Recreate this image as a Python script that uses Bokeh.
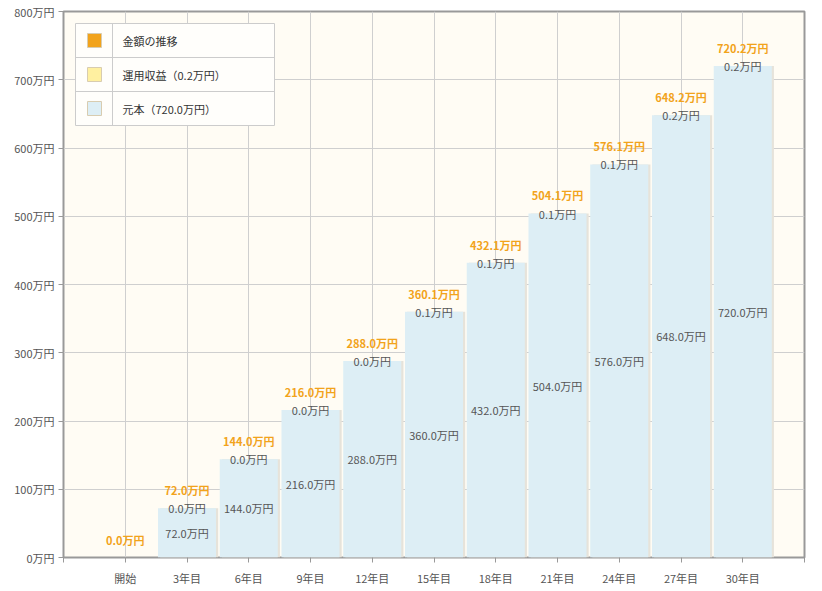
from bokeh.plotting import figure
from bokeh.models import ColumnDataSource, FixedTicker
from bokeh.transform import dodge
from bokeh.core.properties import value
from bokeh.embed import file_html
from bokeh.resources import INLINE

# --- data -------------------------------------------------------------
categories = ["開始", "3年目", "6年目", "9年目", "12年目", "15年目",
              "18年目", "21年目", "24年目", "27年目", "30年目"]
principal = [0.0, 72.0, 144.0, 216.0, 288.0, 360.0, 432.0, 504.0, 576.0, 648.0, 720.0]
income = [0.0, 0.0, 0.0, 0.0, 0.0, 0.1, 0.1, 0.1, 0.1, 0.2, 0.2]
y_ticks = [0, 100, 200, 300, 400, 500, 600, 700, 800]
legend_labels = ["金額の推移", "運用収益（0.2万円）", "元本（720.0万円）"]

FONT = "Noto Sans CJK JP"
ORANGE = "#F2A31B"
BAR = "#DDEEF5"
GREY_TXT = "#555555"

xs = list(range(1, len(categories) + 1))
total = [round(p + i, 1) for p, i in zip(principal, income)]

src = ColumnDataSource(dict(
    x=xs, principal=principal, income=income, total=total,
    mid=[p / 2 for p in principal],
    total_lbl=[f"{t:.1f}万円" for t in total],
    principal_lbl=[f"{p:.1f}万円" if p > 0 else "" for p in principal],
    income_lbl=[f"{i:.1f}万円" if p > 0 else "" for p, i in zip(principal, income)],
))

W, H = 822, 591
p = figure(width=W, height=H, output_backend="svg", toolbar_location=None,
           x_range=(0, len(categories) + 1), y_range=(0, 800),
           min_border_left=63, min_border_right=18, min_border_top=11,
           min_border_bottom=34)
p.background_fill_color = "#FFFCF4"
p.border_fill_color = "white"
p.outline_line_color = "#999999"
p.outline_line_width = 2

# grid
p.xgrid.ticker = FixedTicker(ticks=xs)
p.ygrid.ticker = FixedTicker(ticks=y_ticks)
for g in (p.xgrid, p.ygrid):
    g.grid_line_color = "#CFCFCF"
    g.grid_line_width = 1

# axes
p.xaxis.ticker = FixedTicker(ticks=[0] + xs + [len(categories) + 1])
p.xaxis.major_label_overrides = {0: "", len(categories) + 1: "",
                                 **{x: c for x, c in zip(xs, categories)}}
p.yaxis.ticker = FixedTicker(ticks=y_ticks)
p.yaxis.major_label_overrides = {t: f"{t}万円" for t in y_ticks}
for ax in (p.xaxis, p.yaxis):
    ax.axis_line_color = None
    ax.major_tick_line_color = "#999999"
    ax.major_tick_out = 5
    ax.major_tick_in = 0
    ax.minor_tick_line_color = None
    ax.major_label_text_font = FONT
    ax.major_label_text_font_size = "11px"
    ax.major_label_text_color = GREY_TXT
p.xaxis.major_label_standoff = 7
p.yaxis.major_label_standoff = 4

# bars with a faint shadow
p.vbar(x=dodge("x", 0.035, range=p.x_range), top="principal", width=0.94,
       source=src, fill_color="#E6E3DA", line_color=None)
p.vbar(x="x", top="principal", width=0.94, source=src,
       fill_color=BAR, line_color=None)

# value labels
common = dict(source=src, text_font=value(FONT), text_font_size="11px",
              text_align="center", text_baseline="middle")
p.text(x="x", y="total", text="total_lbl", y_offset=-18,
       text_color=ORANGE, text_font_style="bold", **common)
p.text(x="x", y="principal", text="income_lbl", text_color=GREY_TXT, **common)
p.text(x="x", y="mid", text="principal_lbl", text_color=GREY_TXT, **common)

# legend box drawn in plot coordinates from pixel positions
fx0, fx1, fy0, fy1 = 63, 804, 11, 557
def px_x(px):
    return (px - fx0) / (fx1 - fx0) * (len(categories) + 1)
def px_y(py):
    return (fy1 - py) / (fy1 - fy0) * 800

lx0, lx1, ly0, ly1 = 75, 274, 23, 125
row_h = (ly1 - ly0) / 3
p.quad(left=px_x(lx0), right=px_x(lx1), top=px_y(ly0), bottom=px_y(ly1),
       fill_color="#FFFEFB", line_color="#CCCCCC", line_width=1)
for k in (1, 2):
    yy = px_y(ly0 + k * row_h)
    p.line(x=[px_x(lx0), px_x(lx1)], y=[yy, yy], line_color="#CCCCCC", line_width=1)
p.line(x=[px_x(112), px_x(112)], y=[px_y(ly0), px_y(ly1)], line_color="#CCCCCC", line_width=1)

sw_colors = [ORANGE, "#FFF0A0", BAR]
sw_x = [px_x(94)] * 3
sw_y = [px_y(ly0 + (k + 0.5) * row_h) for k in range(3)]
p.rect(x=sw_x, y=sw_y, width=14, height=14, width_units="screen",
       height_units="screen", fill_color=sw_colors, line_color="#D8CCB0",
       line_width=1)
p.text(x=[px_x(122)] * 3, y=sw_y, text=legend_labels, text_font=value(FONT),
       text_font_size="11px", text_color="#333333", text_baseline="middle",
       text_align="left")

open("out.html", "w").write(file_html(p, INLINE))
